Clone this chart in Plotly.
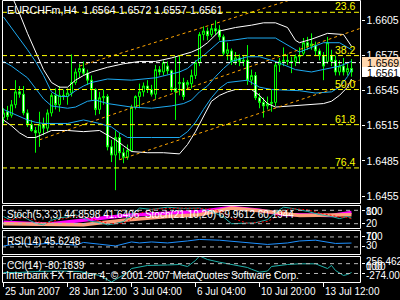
import plotly.graph_objects as go

W, H = 400, 300

# ---------------- data ----------------
bar_index = list(range(88))
opens = [1.6522,1.6527,1.6524,1.6533,1.6544,1.6542,1.6526,1.6516,1.6511,1.6509,
         1.6516,1.6513,1.6526,1.6541,1.6533,1.6541,1.6540,1.6543,1.6552,1.6561,
         1.6564,1.6560,1.6554,1.6546,1.6529,1.6539,1.6540,1.6497,1.6490,1.6505,
         1.6492,1.6488,1.6494,1.6531,1.6540,1.6544,1.6549,1.6546,1.6542,1.6563,
         1.6561,1.6566,1.6562,1.6547,1.6551,1.6552,1.6550,1.6551,1.6558,1.6569,
         1.6593,1.6596,1.6593,1.6598,1.6597,1.6591,1.6577,1.6579,1.6570,1.6573,
         1.6570,1.6571,1.6554,1.6558,1.6539,1.6535,1.6532,1.6534,1.6535,1.6567,
         1.6570,1.6571,1.6570,1.6570,1.6574,1.6577,1.6586,1.6583,1.6584,1.6579,
         1.6575,1.6570,1.6575,1.6571,1.6561,1.6566,1.6561,1.6564]
highs = [1.6530,1.6532,1.6537,1.6554,1.6549,1.6549,1.6529,1.6520,1.6514,1.6527,
         1.6522,1.6529,1.6543,1.6547,1.6549,1.6546,1.6547,1.6576,1.6564,1.6568,
         1.6570,1.6563,1.6558,1.6547,1.6544,1.6546,1.6542,1.6503,1.6511,1.6509,
         1.6496,1.6499,1.6533,1.6541,1.6551,1.6552,1.6554,1.6550,1.6567,1.6566,
         1.6571,1.6570,1.6563,1.6574,1.6575,1.6556,1.6554,1.6563,1.6571,1.6595,
         1.6600,1.6599,1.6602,1.6605,1.6601,1.6593,1.6586,1.6581,1.6578,1.6576,
         1.6575,1.6584,1.6563,1.6561,1.6543,1.6539,1.6540,1.6546,1.6570,1.6573,
         1.6582,1.6576,1.6574,1.6576,1.6582,1.6590,1.6591,1.6594,1.6587,1.6581,
         1.6578,1.6591,1.6580,1.6575,1.6571,1.6573,1.6568,1.6572]
lows = [1.6517,1.6520,1.6522,1.6530,1.6539,1.6524,1.6514,1.6510,1.6492,1.6497,
        1.6507,1.6510,1.6523,1.6529,1.6527,1.6537,1.6533,1.6540,1.6550,1.6556,
        1.6558,1.6550,1.6537,1.6524,1.6525,1.6533,1.6494,1.6484,1.6460,1.6486,
        1.6483,1.6486,1.6493,1.6529,1.6530,1.6540,1.6543,1.6540,1.6538,1.6558,
        1.6558,1.6559,1.6544,1.6520,1.6541,1.6537,1.6546,1.6547,1.6555,1.6566,
        1.6588,1.6588,1.6591,1.6593,1.6588,1.6575,1.6571,1.6567,1.6567,1.6566,
        1.6566,1.6550,1.6550,1.6537,1.6530,1.6522,1.6529,1.6527,1.6532,1.6561,
        1.6566,1.6567,1.6560,1.6566,1.6568,1.6575,1.6580,1.6580,1.6575,1.6571,
        1.6554,1.6568,1.6566,1.6558,1.6558,1.6558,1.6558,1.6557]
closes = [1.6526,1.6523,1.6533,1.6544,1.6542,1.6526,1.6516,1.6511,1.6509,1.6516,
          1.6513,1.6526,1.6541,1.6533,1.6541,1.6540,1.6543,1.6552,1.6561,1.6564,
          1.6560,1.6554,1.6546,1.6529,1.6539,1.6540,1.6497,1.6490,1.6505,1.6492,
          1.6488,1.6494,1.6531,1.6540,1.6544,1.6549,1.6546,1.6542,1.6563,1.6561,
          1.6569,1.6562,1.6547,1.6544,1.6552,1.6540,1.6552,1.6558,1.6569,1.6593,
          1.6596,1.6592,1.6598,1.6596,1.6591,1.6577,1.6580,1.6570,1.6573,1.6570,
          1.6571,1.6554,1.6558,1.6539,1.6535,1.6532,1.6534,1.6535,1.6567,1.6570,
          1.6571,1.6570,1.6570,1.6574,1.6575,1.6586,1.6583,1.6585,1.6579,1.6575,
          1.6566,1.6586,1.6570,1.6561,1.6566,1.6561,1.6564,1.6561]

# outer (white) band
uw_idx = [0,2,4,6,8,10,12,14,16,18,20,22,26,30,34,38,42,44,47,49,51,54,58,62,65,68,71,73,74,77,81,85,87]
uw_val = [1.6642,1.6627,1.6611,1.6594,1.6579,1.6563,1.6552,1.6548,1.6548,1.6554,1.6558,1.6561,1.6565,
          1.6568,1.6570,1.6570,1.6573,1.6575,1.6578,1.6581,1.6586,1.6596,1.6599,1.6601,1.6603,1.6603,
          1.6599,1.6588,1.6586,1.6589,1.6594,1.6593,1.6583]
lw_idx = [0,2,4,6,8,10,12,16,20,24,26,28,30,32,36,40,44,46,48,50,52,54,56,58,62,64,66,68,72,76,80,82,84,86,87]
lw_val = [1.6520,1.6515,1.6509,1.6505,1.6505,1.6508,1.6511,1.6511,1.6510,1.6511,1.6507,1.6503,1.6498,
          1.6493,1.6492,1.6492,1.6491,1.6499,1.6510,1.6523,1.6536,1.6541,1.6544,1.6546,1.6546,1.6541,
          1.6534,1.6531,1.6532,1.6533,1.6534,1.6536,1.6541,1.6548,1.6555]
# inner (blue) band
ub_idx = [0,2,4,6,8,10,12,14,16,18,20,22,26,32,38,42,44,46,48,50,52,54,57,61,68,72,74,77,80,84,86,87]
ub_val = [1.6608,1.6599,1.6589,1.6580,1.6570,1.6558,1.6544,1.6540,1.6540,1.6545,1.6549,1.6552,1.6555,
          1.6554,1.6556,1.6559,1.6561,1.6564,1.6570,1.6575,1.6581,1.6587,1.6588,1.6590,1.6590,1.6582,
          1.6578,1.6582,1.6586,1.6586,1.6582,1.6580]
mb_idx = [0,2,4,6,8,10,12,16,18,21,23,26,32,37,42,45,47,49,51,53,55,57,61,64,68,73,77,81,84,87]
mb_val = [1.6570,1.6566,1.6561,1.6556,1.6547,1.6538,1.6532,1.6530,1.6531,1.6536,1.6537,1.6534,1.6531,
          1.6530,1.6532,1.6534,1.6537,1.6544,1.6549,1.6557,1.6564,1.6570,1.6574,1.6574,1.6570,1.6563,
          1.6561,1.6564,1.6566,1.6570]
lb_idx = [0,2,4,6,8,10,16,20,24,27,29,31,37,44,46,48,50,52,54,56,61,64,67,74,78,82,84,86,87]
lb_val = [1.6529,1.6526,1.6523,1.6520,1.6518,1.6517,1.6517,1.6520,1.6517,1.6514,1.6509,1.6505,1.6505,
          1.6505,1.6510,1.6518,1.6529,1.6539,1.6547,1.6552,1.6554,1.6548,1.6546,1.6545,1.6543,1.6544,
          1.6548,1.6557,1.6563]
# channel lines (orange), end points
ch_up_idx, ch_up_val = [19, 74], [1.6566, 1.6625]
ch_mid_idx, ch_mid_val = [9, 89], [1.6503, 1.6598]
ch_low_idx, ch_low_val = [29, 89], [1.6486, 1.6554]

fib_names = ["23.6", "38.2", "50.0", "61.8", "76.4"]
fib_prices = [1.6612, 1.6575, 1.6546, 1.6516, 1.6479]
ask_price, bid_price = 1.6569, 1.6561
price_ticks = [1.6455, 1.6485, 1.6515, 1.6545, 1.6575, 1.6605]

# Stochastic
st21_main_idx = [0,11,22,31,42,49,57,64,70,77,82,87]
st21_main_val = [26,18,40,58,68,75,92,80,61,57,57,69.96]
st21_sig_idx = [0,20,30,41,49,57,66,74,87]
st21_sig_val = [20,15,35,52,60,90,75,57,60.19]
st5_idx = [0,2,4,6,8,10,12,14,16,18,20,22,24,26,28,30,32,34,37,41,45,49,52,55,57,61,63,66,68,70,72,76,79,82,84,86,87]
st5_main = [52,35,62,40,22,15,35,47,50,60,45,30,25,15,20,30,60,90,84,94,88,90,75,50,20,24,24,38,70,94,89,75,61,52,43,52,44.86]
st5_sig = [40,38,45,48,32,22,28,40,45,55,52,42,30,22,20,22,40,65,85,88,90,88,85,70,45,22,24,30,50,75,88,82,68,57,50,47,41.64]
# RSI
rsi_idx = [0,4,8,12,18,20,24,28,32,34,37,41,46,49,54,59,62,66,71,74,78,81,83,87]
rsi_val = [34,44,40,46,37,48,41,34,50,46,50,46,54,60,57,50,44,40,46,54,57,50,44,45.62]
# CCI
cci_idx = [0,4,8,14,19,22,24,27,29,31,32,36,41,44,46,48,49,51,54,57,61,62,64,66,67,71,74,78,79,81,82,83,85,86,87]
cci_val = [-80,-80,-60,-50,-60,-101,-141,-274,-182,-80,1,63,73,83,42,165,256.46,185,130,83,22,-13,-74,-50,42,
           83,97,97,69,1,63,-39,-141,-121,-80.18]

date_ticks = [0, 16, 32, 48, 64, 80]
date_labels = ["25 Jun 2007", "28 Jun 12:00", "3 Jul 04:00", "6 Jul 04:00", "10 Jul 20:00", "13 Jul 12:00"]

# ---------------- styling helpers ----------------
FONT = "Liberation Sans, Arial, sans-serif"
FS = 10
def px_x(p):
    return p / W
def px_y(p):
    return 1 - p / H

fig = go.Figure()

def line(x, y, color, width=1, dash=None, yaxis="y"):
    fig.add_trace(go.Scatter(x=x, y=y, mode="lines", yaxis=yaxis,
                             line=dict(color=color, width=width, dash=dash),
                             hoverinfo="skip", showlegend=False))

# bands & channels
line(uw_idx, uw_val, "#FFFFFF")
line(lw_idx, lw_val, "#FFFFFF")
line(ub_idx, ub_val, "#1EAAF0")
line(mb_idx, mb_val, "#1EAAF0")
line(lb_idx, lb_val, "#1EAAF0")
line(ch_up_idx, ch_up_val, "#FFA500", dash="3px,3px")
line(ch_mid_idx, ch_mid_val, "#FFA500", dash="3px,3px")
line(ch_low_idx, ch_low_val, "#FFA500", dash="3px,3px")

fig.add_trace(go.Candlestick(
    x=bar_index, open=opens, high=highs, low=lows, close=closes,
    increasing=dict(line=dict(color="#00FF00", width=1), fillcolor="#000000"),
    decreasing=dict(line=dict(color="#00FF00", width=1), fillcolor="#FFFFFF"),
    whiskerwidth=0, hoverinfo="skip", showlegend=False))

# sub-indicators
line(st21_main_idx, st21_main_val, "#FF00FF", width=3.5, yaxis="y2")
line(st21_sig_idx, st21_sig_val, "#FFA07A", width=3.5, yaxis="y2")
line(st5_idx, st5_main, "#20B2AA", width=1, yaxis="y2")
line(st5_idx, st5_sig, "#FF0000", width=1, dash="2px,2px", yaxis="y2")
line(rsi_idx, rsi_val, "#1E90FF", width=1, yaxis="y3")
line(cci_idx, cci_val, "#20B2AA", width=1, yaxis="y4")

shapes = []
# fib lines and ask line
for p in fib_prices:
    shapes.append(dict(type="line", xref="paper", yref="y", x0=px_x(2), x1=px_x(360), y0=p, y1=p,
                       line=dict(color="#FFFF00", width=1, dash="5px,3px")))
shapes.append(dict(type="line", xref="paper", yref="y", x0=px_x(2), x1=px_x(360), y0=ask_price, y1=ask_price,
                   line=dict(color="#FFFFFF", width=1, dash="4px,3px")))
# indicator level lines
for ax, lv in (("y2", 80), ("y2", 20), ("y3", 70), ("y3", 30), ("y4", 100), ("y4", -100)):
    shapes.append(dict(type="line", xref="paper", yref=ax, x0=px_x(2), x1=px_x(360), y0=lv, y1=lv,
                       line=dict(color="#BBBBBB", width=1, dash="4px,4px")))
# panel frames
for top, bot in ((0.5, 203.5), (205.5, 228.5), (230.5, 254.5), (256.5, 282.5)):
    shapes.append(dict(type="rect", xref="paper", yref="paper", x0=px_x(2.5), x1=px_x(360.5),
                       y0=px_y(bot), y1=px_y(top), line=dict(color="#FFFFFF", width=1)))
# bid/ask boxes
shapes.append(dict(type="rect", xref="paper", yref="paper", x0=px_x(362), x1=px_x(400),
                   y0=px_y(67), y1=px_y(57), fillcolor="#FFD8B0", line=dict(width=0)))
shapes.append(dict(type="rect", xref="paper", yref="paper", x0=px_x(362), x1=px_x(400),
                   y0=px_y(77), y1=px_y(67), fillcolor="#FFFFFF", line=dict(width=0)))

ann = []
def text(t, x, y, color="#FFFFFF", xanchor="left", size=FS):
    ann.append(dict(text=t, x=px_x(x), y=px_y(y), xref="paper", yref="paper", xanchor=xanchor,
                    yanchor="middle", showarrow=False, font=dict(family=FONT, size=size, color=color)))

text("EURCHFm,H4\u00a0 1.6564 1.6572 1.6557 1.6561", 5, 10, size=10.7)
for name, p in zip(fib_names, fib_prices):
    ann.append(dict(text=name, x=px_x(358), y=p, xref="paper", yref="y", xanchor="right", yanchor="bottom",
                    yshift=-2, showarrow=False, font=dict(family=FONT, size=10.5, color="#FFFF00")))
ann.append(dict(text=f"{ask_price:.4f}", x=px_x(365), y=ask_price, xref="paper", yref="y", xanchor="left",
                yanchor="middle", showarrow=False, font=dict(family=FONT, size=10.5, color="#000000")))
ann.append(dict(text=f"{bid_price:.4f}", x=px_x(365), y=bid_price, xref="paper", yref="y", xanchor="left",
                yanchor="middle", yshift=-1, showarrow=False, font=dict(family=FONT, size=10.5, color="#000000")))
text("Stoch(5,3,3) 44.8598 41.6406\u00a0 Stoch(21,10,20) 69.9612 60.1944", 5, 214)
text("RSI(14) 45.6248", 5, 241)
text("CCI(14) -80.1839", 5, 265)
text("Interbank FX Trader 4, \u00a9 2001-2007 MetaQuotes Software Corp.", 4, 275, size=10.2)
for t, y in (("100", 211.5), ("80", 211.5), ("20", 223.5), ("100", 236), ("70", 236), ("30", 245),
             ("256.4625", 261), ("100", 266.5), ("0.00", 266.5), ("-274.001", 275)):
    text(t, 364, y)
for i, lab in zip(date_ticks, date_labels):
    ann.append(dict(text=lab, x=i, y=px_y(291), xref="x", yref="paper", xanchor="left", xshift=-1,
                    yanchor="middle", showarrow=False, font=dict(family=FONT, size=10, color="#FFFFFF")))

fig.update_layout(
    width=W, height=H, margin=dict(l=0, r=0, t=0, b=0),
    paper_bgcolor="#000000", plot_bgcolor="#000000", showlegend=False,
    shapes=shapes, annotations=ann,
    xaxis=dict(domain=[px_x(2.5), px_x(360.5)], range=[-0.25, 89.25], anchor="y4",
               showgrid=False, zeroline=False, showline=False, rangeslider=dict(visible=False),
               tickmode="array", tickvals=date_ticks, ticks="outside", ticklen=4, tickcolor="#FFFFFF",
               showticklabels=False),
    yaxis=dict(domain=[px_y(203.5), px_y(0)], range=[1.64486, 1.66225], side="right", anchor="x",
               showgrid=False, zeroline=False, showline=False, tickmode="array", tickvals=price_ticks,
               ticktext=[f"{v:.4f}" for v in price_ticks], ticks="outside", ticklen=3, tickcolor="#FFFFFF",
               tickfont=dict(family=FONT, size=10.5, color="#FFFFFF")),
    yaxis2=dict(domain=[px_y(228.5), px_y(205.5)], range=[-1.5, 101.5], anchor="x", side="right",
                showgrid=False, zeroline=False, showticklabels=False, tickmode="array", tickvals=[80, 20],
                ticks="outside", ticklen=3, tickcolor="#FFFFFF"),
    yaxis3=dict(domain=[px_y(254.5), px_y(230.5)], range=[-0.2, 95.8], anchor="x", side="right",
                showgrid=False, zeroline=False, showticklabels=False, tickmode="array", tickvals=[70, 30],
                ticks="outside", ticklen=3, tickcolor="#FFFFFF"),
    yaxis4=dict(domain=[px_y(282), px_y(256)], range=[-274.0, 256.46], anchor="x", side="right",
                showgrid=False, zeroline=False, showticklabels=False, tickmode="array", tickvals=[100, -100],
                ticks="outside", ticklen=3, tickcolor="#FFFFFF"),
)

fig.write_html("out.html")
